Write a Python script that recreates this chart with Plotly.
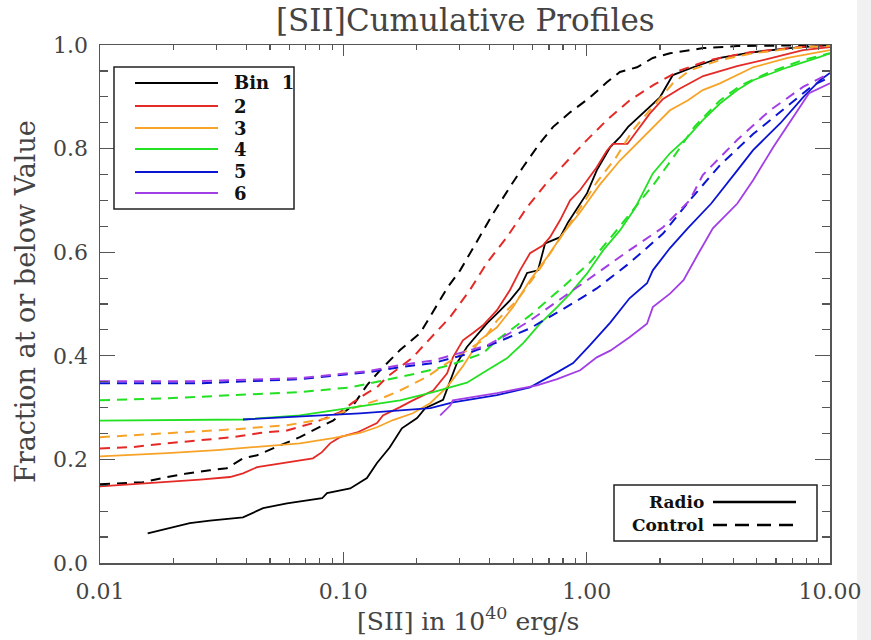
import plotly.graph_objects as go

# ---------------- data ----------------
bin1_radio_x = [0.0157, 0.0234, 0.0283, 0.0387, 0.0468, 0.0587, 0.0818, 0.0857, 0.1067, 0.125, 0.1375, 0.155, 0.174, 0.201, 0.217, 0.257, 0.269, 0.293, 0.322, 0.39, 0.429, 0.484, 0.532, 0.569, 0.631, 0.675, 0.778, 0.839, 1.004, 1.10, 1.25, 1.37, 1.48, 1.71, 2.0, 2.26, 2.74, 3.53, 4.83, 6.85, 10.0]
bin1_radio_y = [0.057, 0.077, 0.082, 0.088, 0.106, 0.115, 0.125, 0.135, 0.144, 0.164, 0.193, 0.223, 0.260, 0.280, 0.299, 0.315, 0.340, 0.386, 0.417, 0.463, 0.482, 0.507, 0.531, 0.560, 0.565, 0.617, 0.629, 0.658, 0.714, 0.758, 0.803, 0.822, 0.842, 0.870, 0.899, 0.942, 0.957, 0.975, 0.986, 0.994, 1.0]

bin1_control_x = [0.01, 0.0150, 0.0189, 0.0228, 0.0283, 0.0332, 0.0387, 0.0442, 0.0549, 0.0663, 0.0779, 0.0907, 0.1096, 0.125, 0.1416, 0.171, 0.207, 0.238, 0.269, 0.302, 0.355, 0.413, 0.484, 0.547, 0.643, 0.728, 0.855, 1.033, 1.21, 1.37, 1.61, 1.87, 2.2, 3.01, 4.16, 10.0]
bin1_control_y = [0.152, 0.156, 0.166, 0.173, 0.179, 0.183, 0.202, 0.208, 0.227, 0.243, 0.260, 0.275, 0.304, 0.343, 0.372, 0.411, 0.444, 0.490, 0.533, 0.565, 0.623, 0.675, 0.726, 0.764, 0.811, 0.842, 0.870, 0.899, 0.928, 0.948, 0.957, 0.975, 0.984, 0.994, 0.998, 1.0]

bin2_radio_x = [0.01, 0.0137, 0.0189, 0.0258, 0.0342, 0.0387, 0.0442, 0.0565, 0.075, 0.0817, 0.0882, 0.0969, 0.114, 0.1375, 0.1455, 0.171, 0.193, 0.234, 0.267, 0.282, 0.310, 0.341, 0.375, 0.428, 0.484, 0.532, 0.585, 0.66, 0.707, 0.778, 0.855, 0.94, 1.10, 1.21, 1.28, 1.47, 1.61, 1.82, 2.06, 2.42, 3.01, 4.15, 5.67, 7.75, 10.0]
bin2_radio_y = [0.148, 0.152, 0.156, 0.161, 0.166, 0.173, 0.185, 0.193, 0.202, 0.214, 0.231, 0.243, 0.252, 0.270, 0.285, 0.301, 0.314, 0.333, 0.366, 0.397, 0.430, 0.444, 0.459, 0.488, 0.527, 0.565, 0.598, 0.613, 0.629, 0.662, 0.700, 0.720, 0.764, 0.796, 0.809, 0.809, 0.835, 0.868, 0.896, 0.916, 0.940, 0.959, 0.974, 0.990, 0.996]

bin2_control_x = [0.01, 0.0137, 0.0189, 0.0258, 0.0352, 0.0454, 0.0587, 0.075, 0.0969, 0.1096, 0.125, 0.1375, 0.151, 0.171, 0.193, 0.211, 0.234, 0.275, 0.33, 0.39, 0.47, 0.57, 0.675, 0.80, 0.985, 1.21, 1.5, 1.9, 2.42, 3.2, 4.7, 7.5, 10.0]
bin2_control_y = [0.221, 0.224, 0.231, 0.237, 0.243, 0.251, 0.256, 0.270, 0.291, 0.31, 0.328, 0.339, 0.359, 0.378, 0.397, 0.417, 0.44, 0.475, 0.526, 0.58, 0.629, 0.687, 0.73, 0.768, 0.813, 0.855, 0.893, 0.924, 0.951, 0.971, 0.986, 0.996, 0.998]

bin3_radio_x = [0.01, 0.0189, 0.0302, 0.0484, 0.0663, 0.0907, 0.117, 0.1375, 0.16, 0.193, 0.228, 0.267, 0.31, 0.363, 0.428, 0.498, 0.585, 0.687, 0.80, 0.94, 1.13, 1.37, 1.61, 1.87, 2.2, 2.6, 3.0, 3.53, 4.16, 4.83, 6.7, 10.0]
bin3_radio_y = [0.206, 0.212, 0.218, 0.225, 0.231, 0.241, 0.251, 0.262, 0.276, 0.289, 0.309, 0.34, 0.38, 0.43, 0.455, 0.494, 0.546, 0.59, 0.636, 0.677, 0.73, 0.777, 0.81, 0.842, 0.874, 0.893, 0.913, 0.926, 0.942, 0.957, 0.975, 0.99]

bin3_control_x = [0.01, 0.0189, 0.0352, 0.0587, 0.0857, 0.1096, 0.1375, 0.171, 0.22, 0.267, 0.322, 0.375, 0.428, 0.517, 0.625, 0.756, 0.91, 1.10, 1.32, 1.55, 1.87, 2.26, 2.65, 3.53, 4.83, 7.75, 10.0]
bin3_control_y = [0.243, 0.251, 0.258, 0.266, 0.279, 0.299, 0.314, 0.333, 0.359, 0.386, 0.411, 0.43, 0.468, 0.507, 0.56, 0.617, 0.675, 0.735, 0.783, 0.836, 0.88, 0.926, 0.951, 0.971, 0.984, 0.996, 0.998]

bin4_radio_x = [0.01, 0.0387, 0.0663, 0.0907, 0.125, 0.171, 0.234, 0.322, 0.39, 0.47, 0.55, 0.643, 0.756, 0.855, 1.004, 1.17, 1.37, 1.58, 1.87, 2.2, 2.6, 3.0, 3.53, 4.16, 4.83, 6.7, 9.1, 10.0]
bin4_radio_y = [0.275, 0.277, 0.285, 0.295, 0.304, 0.314, 0.33, 0.348, 0.372, 0.395, 0.425, 0.462, 0.494, 0.52, 0.559, 0.604, 0.642, 0.685, 0.752, 0.791, 0.822, 0.855, 0.887, 0.913, 0.932, 0.957, 0.977, 0.984]

bin4_control_x = [0.01, 0.0189, 0.0352, 0.0663, 0.107, 0.146, 0.20, 0.275, 0.375, 0.428, 0.585, 0.80, 1.03, 1.28, 1.58, 1.9, 2.3, 2.77, 3.53, 4.3, 5.67, 7.75, 10.0]
bin4_control_y = [0.314, 0.318, 0.324, 0.33, 0.339, 0.353, 0.366, 0.382, 0.405, 0.43, 0.478, 0.533, 0.58, 0.633, 0.687, 0.733, 0.787, 0.842, 0.893, 0.922, 0.948, 0.971, 0.984]

bin5_radio_x = [0.0387, 0.0663, 0.117, 0.228, 0.282, 0.428, 0.585, 0.756, 0.88, 1.03, 1.25, 1.5, 1.77, 1.87, 2.2, 2.6, 3.25, 4.16, 4.83, 6.25, 7.75, 9.1, 10.0]
bin5_radio_y = [0.277, 0.283, 0.289, 0.299, 0.31, 0.324, 0.339, 0.368, 0.386, 0.42, 0.464, 0.511, 0.54, 0.565, 0.608, 0.646, 0.694, 0.758, 0.797, 0.849, 0.899, 0.932, 0.946]

bin5_control_x = [0.01, 0.0258, 0.0663, 0.125, 0.171, 0.234, 0.31, 0.428, 0.585, 0.80, 1.10, 1.5, 2.06, 2.65, 3.53, 4.83, 6.6, 8.5, 10.0]
bin5_control_y = [0.347, 0.347, 0.355, 0.368, 0.378, 0.386, 0.401, 0.426, 0.453, 0.49, 0.53, 0.579, 0.636, 0.70, 0.768, 0.828, 0.88, 0.922, 0.938]

bin6_radio_x = [0.25, 0.275, 0.282, 0.428, 0.625, 0.756, 0.94, 1.10, 1.25, 1.5, 1.77, 1.87, 2.2, 2.5, 2.85, 3.3, 4.16, 4.83, 5.85, 7.05, 8.2, 10.0]
bin6_radio_y = [0.285, 0.304, 0.314, 0.328, 0.343, 0.355, 0.372, 0.397, 0.41, 0.436, 0.462, 0.494, 0.52, 0.546, 0.594, 0.646, 0.694, 0.739, 0.803, 0.861, 0.907, 0.926]

bin6_control_x = [0.01, 0.0258, 0.0663, 0.125, 0.171, 0.234, 0.31, 0.39, 0.484, 0.585, 0.80, 1.10, 1.5, 2.06, 2.65, 3.0, 4.16, 5.67, 7.75, 10.0]
bin6_control_y = [0.351, 0.351, 0.357, 0.37, 0.382, 0.391, 0.407, 0.42, 0.444, 0.468, 0.513, 0.559, 0.604, 0.648, 0.70, 0.749, 0.817, 0.874, 0.919, 0.946]

bin_labels = ["Bin\u00a0\u00a01", "2", "3", "4", "5", "6"]
group_labels = ["Radio", "Control"]
x_tick_vals = [0.01, 0.1, 1.0, 10.0]
x_tick_text = ["0.01", "0.10", "1.00", "10.00"]
y_tick_vals = [0.0, 0.2, 0.4, 0.6, 0.8, 1.0]
y_tick_text = ["0.0", "0.2", "0.4", "0.6", "0.8", "1.0"]

# ---------------- styling ----------------
colors = ["#000000", "#e42a26", "#f7a328", "#22e022", "#0a14d2", "#a23ee6"]
radio_series = [(bin1_radio_x, bin1_radio_y), (bin2_radio_x, bin2_radio_y), (bin3_radio_x, bin3_radio_y),
                (bin4_radio_x, bin4_radio_y), (bin5_radio_x, bin5_radio_y), (bin6_radio_x, bin6_radio_y)]
control_series = [(bin1_control_x, bin1_control_y), (bin2_control_x, bin2_control_y), (bin3_control_x, bin3_control_y),
                  (bin4_control_x, bin4_control_y), (bin5_control_x, bin5_control_y), (bin6_control_x, bin6_control_y)]

fig = go.Figure()
for i in range(6):
    cx, cy = control_series[i]
    fig.add_trace(go.Scatter(x=cx, y=cy, mode="lines", showlegend=False, hoverinfo="skip",
                             line=dict(color=colors[i], width=2, dash="10px,7px")))
    rx, ry = radio_series[i]
    fig.add_trace(go.Scatter(x=rx, y=ry, mode="lines", showlegend=False, hoverinfo="skip",
                             line=dict(color=colors[i], width=1.8)))

W, H = 871, 640
L, R, T, B = 100, 41, 45, 77
pw, ph = W - L - R, H - T - B

def px(xp):
    return (xp - L) / pw

def py(yp):
    return (H - B - yp) / ph

AX = "#555555"
TICKFONT = dict(family="DejaVu Serif", size=22, color="#444444")
minor_x = [m * 10.0 ** e for e in (-2, -1, 0) for m in range(2, 10)]

fig.update_xaxes(type="log", range=[-2, 1], tickvals=x_tick_vals, ticktext=x_tick_text,
                 ticks="inside", ticklen=11, tickwidth=1.3, tickcolor=AX,
                 showline=True, linecolor=AX, linewidth=1.5, mirror="ticks",
                 showgrid=False, zeroline=False, tickfont=TICKFONT, ticklabelstandoff=8,
                 minor=dict(tickvals=minor_x, ticks="inside", ticklen=5, tickwidth=1.2,
                            tickcolor=AX, showgrid=False))
fig.update_yaxes(range=[0, 1], tickvals=y_tick_vals, ticktext=y_tick_text,
                 ticks="inside", ticklen=15, tickwidth=1.3, tickcolor=AX,
                 showline=True, linecolor=AX, linewidth=1.5, mirror="ticks",
                 showgrid=False, zeroline=False, tickfont=TICKFONT, ticklabelstandoff=6,
                 minor=dict(dtick=0.05, ticks="inside", ticklen=8, tickwidth=1.2,
                            tickcolor=AX, showgrid=False))

shapes = []
annotations = []

# legend 1 (bins)
shapes.append(dict(type="rect", xref="paper", yref="paper", x0=px(114), x1=px(294), y0=py(209), y1=py(67),
                   line=dict(color="#222222", width=1.5), fillcolor="white", layer="above"))
leg_y = [83, 106, 128, 149, 172, 193]
for i in range(6):
    shapes.append(dict(type="line", xref="paper", yref="paper", x0=px(135), x1=px(218),
                       y0=py(leg_y[i]), y1=py(leg_y[i]), line=dict(color=colors[i], width=2), layer="above"))
    annotations.append(dict(text="<b>%s</b>" % bin_labels[i], xref="paper", yref="paper",
                            x=px(232), y=py(leg_y[i]), xanchor="left", yanchor="middle", showarrow=False,
                            font=dict(family="DejaVu Serif", size=18, color="#111111")))

# legend 2 (line styles)
shapes.append(dict(type="rect", xref="paper", yref="paper", x0=px(614), x1=px(817), y0=py(541), y1=py(485),
                   line=dict(color="#222222", width=1.5), fillcolor="white", layer="above"))
style_y = [502, 525]
style_dash = ["solid", "14px,8px"]
for j in range(2):
    shapes.append(dict(type="line", xref="paper", yref="paper", x0=px(713), x1=px(796),
                       y0=py(style_y[j]), y1=py(style_y[j]),
                       line=dict(color="#000000", width=2.5, dash=style_dash[j]), layer="above"))
    annotations.append(dict(text="<b>%s</b>" % group_labels[j], xref="paper", yref="paper",
                            x=px(706), y=py(style_y[j]), xanchor="right", yanchor="middle", showarrow=False,
                            font=dict(family="DejaVu Serif", size=17, color="#111111")))

# titles
annotations.append(dict(text="[SII]Cumulative Profiles", xref="paper", yref="paper",
                        x=px(465), y=py(20), xanchor="center", yanchor="middle", showarrow=False,
                        font=dict(family="DejaVu Serif", size=31, color="#444444")))
annotations.append(dict(text="[SII] in 10<sup>40</sup> erg/s", xref="paper", yref="paper",
                        x=px(468), y=py(619), xanchor="center", yanchor="middle", showarrow=False,
                        font=dict(family="DejaVu Serif", size=25, color="#444444")))
annotations.append(dict(text="Fraction at or below Value", xref="paper", yref="paper",
                        x=px(25), y=py(302), xanchor="center", yanchor="middle", showarrow=False,
                        textangle=-90, font=dict(family="DejaVu Serif", size=27, color="#444444")))

# faint grey strip on the far right of the picture
shapes.append(dict(type="rect", xref="paper", yref="paper", x0=px(857), x1=px(871), y0=py(640), y1=py(0),
                   line=dict(width=0), fillcolor="#f1f1f1", layer="below"))

fig.update_layout(width=W, height=H, margin=dict(l=L, r=R, t=T, b=B, autoexpand=False),
                  paper_bgcolor="white", plot_bgcolor="white", hovermode=False,
                  shapes=shapes, annotations=annotations, showlegend=False)

fig.write_html("out.html", config={"displayModeBar": False, "staticPlot": True},
               post_script="document.body.style.margin='0px';document.body.style.overflow='hidden';")
